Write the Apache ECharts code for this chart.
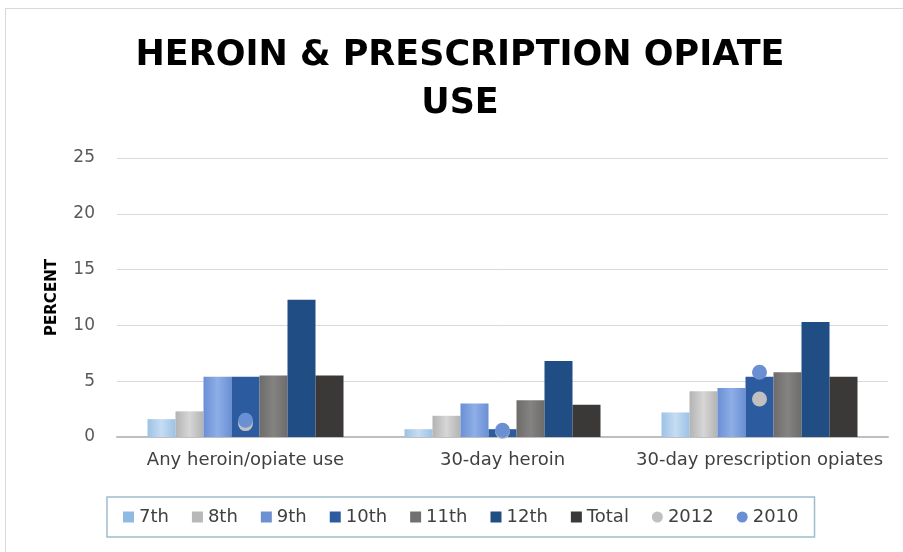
<!DOCTYPE html>
<html>
<head>
<meta charset="utf-8">
<script src="https://cdn.jsdelivr.net/npm/echarts@6/dist/echarts.min.js"></script>
<style>
html,body{margin:0;padding:0;background:#fff;}
#c{width:903px;height:552px;}
</style>
</head>
<body>
<div id="c"></div>
<script>
const categories = ['Any heroin/opiate use', '30-day heroin', '30-day prescription opiates'];
const grade7  = [1.6, 0.7, 2.2];
const grade8  = [2.3, 1.9, 4.1];
const grade9  = [5.4, 3.0, 4.4];
const grade10 = [5.4, 0.7, 5.4];
const grade11 = [5.5, 3.3, 5.8];
const grade12 = [12.3, 6.8, 10.3];
const total   = [5.5, 2.9, 5.4];
const year2012 = [1.2, 0.5, 3.4];
const year2010 = [1.5, 0.6, 5.8];
const yTicks = [0, 5, 10, 15, 20, 25];

const FONT = 'DejaVu Sans';
function grad(edge, mid) {
  return new echarts.graphic.LinearGradient(0, 0, 1, 0, [
    {offset: 0, color: edge}, {offset: 0.5, color: mid}, {offset: 1, color: edge}
  ]);
}
const barDefs = [
  {name: '7th', data: grade7, color: grad('#9cc2e6', '#c6dcf2'), legend: '#8fbbe3'},
  {name: '8th', data: grade8, color: grad('#b3b3b3', '#d6d6d6'), legend: '#b8b8b8'},
  {name: '9th', data: grade9, color: grad('#6a8fd5', '#8eaee6'), legend: '#6d90d2'},
  {name: '10th', data: grade10, color: '#2c5c9f', legend: '#2c5c9f'},
  {name: '11th', data: grade11, color: grad('#6e6b6b', '#858282'), legend: '#737070'},
  {name: '12th', data: grade12, color: '#1f4d84', legend: '#1f4d84'},
  {name: 'Total', data: total, color: '#3b3838', legend: '#3b3838'}
];

const series = barDefs.map(d => ({
  name: d.name, type: 'bar', data: d.data, barWidth: 28, barGap: '0%',
  itemStyle: {color: d.color}, emphasis: {disabled: true}
}));
series.push({
  name: '2012', type: 'scatter', data: year2012, symbol: 'circle', symbolSize: 15,
  itemStyle: {color: '#c0c0c0', opacity: 1}, z: 3
});
series.push({
  name: '2010', type: 'scatter', data: year2010, symbol: 'circle', symbolSize: 15,
  itemStyle: {color: '#6a8fd2', opacity: 1}, z: 4
});

const legendData = barDefs.map(d => ({name: d.name, icon: 'rect', itemStyle: {color: d.legend}}))
  .concat([{name: '2012', icon: 'circle'}, {name: '2010', icon: 'circle'}]);

const chart = echarts.init(document.getElementById('c'), null, {renderer: 'canvas'});
chart.setOption({
  animation: false,
  backgroundColor: '#ffffff',
  graphic: [
    {type: 'line', shape: {x1: 5, y1: 8.5, x2: 903, y2: 8.5}, style: {stroke: '#d9d9d9', lineWidth: 1}},
    {type: 'line', shape: {x1: 5.5, y1: 8, x2: 5.5, y2: 552}, style: {stroke: '#d9d9d9', lineWidth: 1}},
    {type: 'text', x: 460, y: 56, style: {text: 'HEROIN & PRESCRIPTION OPIATE', fill: '#000', font: 'bold 35px "DejaVu Sans"', textAlign: 'center', textVerticalAlign: 'middle'}},
    {type: 'text', x: 460, y: 104, style: {text: 'USE', fill: '#000', font: 'bold 35px "DejaVu Sans"', textAlign: 'center', textVerticalAlign: 'middle'}}
  ],
  grid: {left: 117, right: 15, top: 158, bottom: 115},
  legend: {
    data: legendData,
    left: 107, top: 497,
    itemWidth: 11, itemHeight: 11, itemGap: 23,
    padding: [11, 16, 11, 16],
    borderColor: '#9fbccc', borderWidth: 1.5,
    textStyle: {fontFamily: FONT, fontSize: 18, color: '#404040'},
    selectedMode: false
  },
  xAxis: {
    type: 'category', data: categories,
    axisLine: {show: true, lineStyle: {color: '#bfbfbf', width: 2}},
    axisTick: {show: false},
    axisLabel: {fontFamily: FONT, fontSize: 18, color: '#404040', margin: 14, interval: 0, hideOverlap: false}
  },
  yAxis: {
    type: 'value', min: 0, max: 25, interval: 5,
    name: 'PERCENT', nameLocation: 'middle', nameRotate: 90, nameGap: 57,
    nameTextStyle: {fontFamily: FONT, fontSize: 15, fontWeight: 'bold', color: '#000'},
    axisLine: {show: false}, axisTick: {show: false},
    splitLine: {lineStyle: {color: '#d9d9d9', width: 1}},
    axisLabel: {fontFamily: FONT, fontSize: 17, color: '#595959', margin: 22,
      formatter: v => (yTicks.indexOf(v) >= 0 ? String(v) : '')}
  },
  series: series
});
</script>
</body>
</html>
